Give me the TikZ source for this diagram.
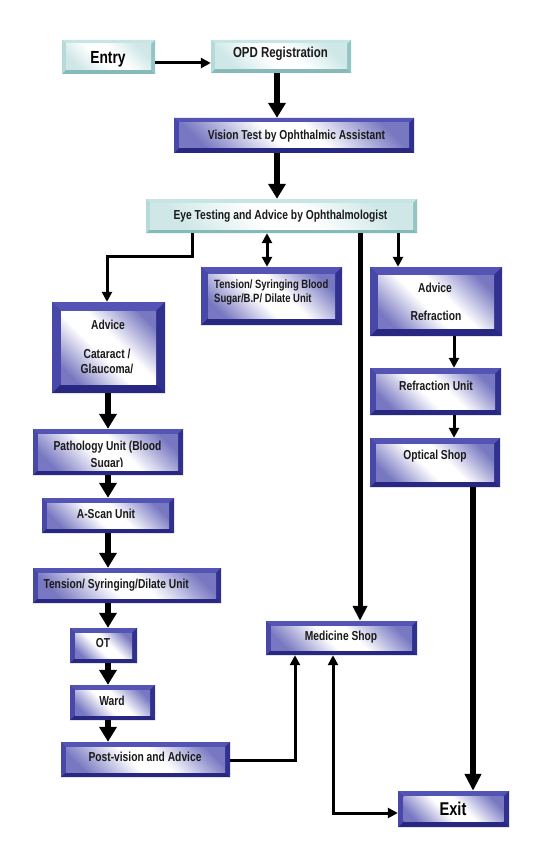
\documentclass[tikz,border=0pt]{standalone}
\usepackage{fontspec}
\setmainfont{Liberation Sans}[FakeStretch=0.79]
\usetikzlibrary{arrows.meta,fit}
\definecolor{bvbase}{HTML}{3A3A9A}
\definecolor{bvtop}{HTML}{5454B4}
\definecolor{bvleft}{HTML}{4848A8}
\definecolor{bvbot}{HTML}{282882}
\definecolor{bvright}{HTML}{30308E}
\definecolor{bfo}{HTML}{7878C2}
\definecolor{tvbase}{HTML}{A2D0CF}
\definecolor{tvtop}{HTML}{C6E5E4}
\definecolor{tvleft}{HTML}{B4DBDA}
\definecolor{tvbot}{HTML}{84BBBA}
\definecolor{tvright}{HTML}{92C5C4}
\definecolor{tfo}{HTML}{CFE7E7}
\definecolor{txtc}{HTML}{1A1A1A}
\pgfdeclarehorizontalshading{bluface}{100bp}{color(0bp)=(bfo); color(22bp)=(bfo); color(44bp)=(white); color(56bp)=(white); color(78bp)=(bfo); color(100bp)=(bfo)}
\pgfdeclarehorizontalshading{tealface}{100bp}{color(0bp)=(tfo); color(24bp)=(tfo); color(44bp)=(white); color(56bp)=(white); color(76bp)=(tfo); color(100bp)=(tfo)}
\tikzset{
  bevw/.store in=\bevw, bevw=5pt,
  topc/.store in=\bvtopc, leftc/.store in=\bvleftc, botc/.store in=\bvbotc,
  rightc/.store in=\bvrightc, facesh/.store in=\bvface,
  bevbox/.style={inner sep=0pt, draw=none, path picture={
    \path (path picture bounding box.north west) coordinate (pA)
          (path picture bounding box.north east) coordinate (pB)
          (path picture bounding box.south east) coordinate (pC)
          (path picture bounding box.south west) coordinate (pD);
    \path ([xshift=\bevw,yshift=-\bevw]pA) coordinate (qA)
          ([xshift=-\bevw,yshift=-\bevw]pB) coordinate (qB)
          ([xshift=-\bevw,yshift=\bevw]pC) coordinate (qC)
          ([xshift=\bevw,yshift=\bevw]pD) coordinate (qD);
    \fill[\bvtopc] (pA)--(pB)--(qB)--(qA)--cycle;
    \fill[\bvrightc] (pB)--(pC)--(qC)--(qB)--cycle;
    \fill[\bvbotc] (pC)--(pD)--(qD)--(qC)--cycle;
    \fill[\bvleftc] (pD)--(pA)--(qA)--(qD)--cycle;
    \shade[shading=\bvface, shading angle=45] (qA) rectangle (qC);
  }},
  bluebox/.style={bevbox, fill=bvbase, topc=bvtop, leftc=bvleft, botc=bvbot, rightc=bvright, facesh=bluface},
  tealbox/.style={bevbox, fill=tvbase, topc=tvtop, leftc=tvleft, botc=tvbot, rightc=tvright, facesh=tealface, bevw=4pt},
  txt/.style={font=\bfseries\fontsize{13}{15}\selectfont, text=txtc, inner sep=0pt, anchor=base},
  thk/.style={line width=5.5pt, -{Triangle[width=17pt,length=15pt]}},
  med/.style={line width=3pt, -{Triangle[width=10pt,length=10pt]}},
}
\begin{document}
\begin{tikzpicture}[x=1pt,y=-1pt]
\useasboundingbox (0,0) rectangle (543,853);
\fill[white] (0,0) rectangle (543,853);
% boxes
\node[tealbox, fit={(62,40)(155,74)}] (entry) {};
\node[tealbox, fit={(211,40)(351,73)}] (opd) {};
\node[bluebox, fit={(174,118)(414,153)}] (vision) {};
\node[tealbox, fit={(146,199)(417,233)}] (eye) {};
\node[bluebox, bevw=7pt, fit={(201,267)(342,325)}] (tens) {};
\node[bluebox, bevw=8pt, fit={(370,267)(502,336)}] (advref) {};
\node[bluebox, bevw=6pt, fit={(370,368)(501,415)}] (refunit) {};
\node[bluebox, bevw=6pt, fit={(370,438)(500,487)}] (optical) {};
\node[bluebox, bevw=9pt, fit={(52,302)(165,393)}] (cataract) {};
\node[bluebox, fit={(33,429)(183,475)}] (path) {};
\node[bluebox, fit={(42,498)(174,533)}] (ascan) {};
\node[bluebox, fit={(33,568)(221,603)}] (tsd) {};
\node[bluebox, fit={(70,628)(137,663)}] (ot) {};
\node[bluebox, fit={(70,685)(155,720)}] (ward) {};
\node[bluebox, fit={(61,742)(230,777)}] (post) {};
\node[bluebox, fit={(266,621)(417,655)}] (medshop) {};
\node[bluebox, bevw=5.5pt, fit={(398,791)(509,827)}] (exit) {};
% texts
\node[txt, text=black, font=\bfseries\fontsize{17.5}{19}\selectfont] (tEntry) at (108,63.5) {Entry};
\node[txt, font=\bfseries\fontsize{14.5}{16}\selectfont] (tOpd) at (280.5,58) {OPD Registration};
\node[txt] (tVision) at (296.5,140) {Vision Test by Ophthalmic Assistant};
\node[txt] (tEye) at (280.5,219.3) {Eye Testing and Advice by Ophthalmologist};
\node[txt, anchor=base west, font=\bfseries\fontsize{12}{14}\selectfont] (tTens1) at (214,288) {Tension/ Syringing Blood};
\node[txt, anchor=base west, font=\bfseries\fontsize{12}{14}\selectfont] (tTens2) at (214,302.7) {Sugar/B.P/ Dilate Unit};
\node[txt] (tAdvR1) at (435,292.3) {Advice};
\node[txt] (tAdvR2) at (436,320.7) {Refraction};
\node[txt] (tRefU) at (436,390.7) {Refraction Unit};
\node[txt] (tOpt) at (435,459.3) {Optical Shop};
\node[txt] (tAdvC1) at (108,329.3) {Advice};
\node[txt] (tAdvC2) at (107,358.3) {Cataract /};
\node[txt] (tAdvC3) at (107,373.3) {Glaucoma/};
\node[txt] (tPath1) at (107.5,450.7) {Pathology Unit (Blood};
\begin{scope}
\clip (38,434) rectangle (178,466.5);
\node[txt] (tPath2) at (107,467.5) {Sugar)};
\end{scope}
\node[txt] (tAscan) at (106,518.3) {A-Scan Unit};
\node[txt, anchor=base west] (tTsd) at (43.3,588.3) {Tension/ Syringing/Dilate Unit};
\node[txt] (tOt) at (103,647.3) {OT};
\node[txt] (tWard) at (112,705) {Ward};
\node[txt] (tPost) at (145,761.7) {Post-vision and Advice};
\node[txt] (tMed) at (341,640) {Medicine Shop};
\node[txt, text=black, font=\bfseries\fontsize{18.5}{20}\selectfont] (tExit) at (453,815.7) {Exit};
% connectors
\draw[med] (entry.east |- 0,63) -- (opd.west |- 0,63);
\draw[thk] (opd.south -| 277,0) -- (vision.north -| 277,0);
\draw[thk] (vision.south -| 277,0) -- (eye.north -| 277,0);
\coordinate (c1) at (107,256);
\draw[med] (eye.south -| 192,0) |- (c1) -- (cataract.north -| c1);
\draw[line width=3pt, {Triangle[width=10pt,length=10pt]}-{Triangle[width=10pt,length=10pt]}] (eye.south -| 267,0) -- (tens.north -| 267,0);
\draw[thk, line width=5pt, -{Triangle[width=14pt,length=15pt]}] (eye.south -| 360,0) -- (medshop.north -| 360,0);
\draw[med] (eye.south -| 398,0) -- (advref.north -| 398,0);
\draw[med] (advref.south -| 454,0) -- (refunit.north -| 454,0);
\draw[med] (refunit.south -| 454,0) -- (optical.north -| 454,0);
\draw[thk, -{Triangle[width=16pt,length=17pt]}] (optical.south -| 473,0) -- (exit.north -| 473,0);
\draw[thk] (cataract.south -| 108,0) -- (path.north -| 108,0);
\draw[thk] (path.south -| 108,0) -- (ascan.north -| 108,0);
\draw[thk] (ascan.south -| 108,0) -- (tsd.north -| 108,0);
\draw[thk] (tsd.south -| 108,0) -- (ot.north -| 108,0);
\draw[thk] (ot.south -| 108,0) -- (ward.north -| 108,0);
\draw[thk] (ward.south -| 108,0) -- (post.north -| 108,0);
\draw[med] (post.east |- 0,760) -| (medshop.south -| 295,0);
\coordinate (c2) at (333,813);
\draw[line width=3pt, {Triangle[width=10pt,length=10pt]}-{Triangle[width=10pt,length=10pt]}] (medshop.south -| c2) -- (c2) -- (exit.west |- c2);
\end{tikzpicture}
\end{document}
